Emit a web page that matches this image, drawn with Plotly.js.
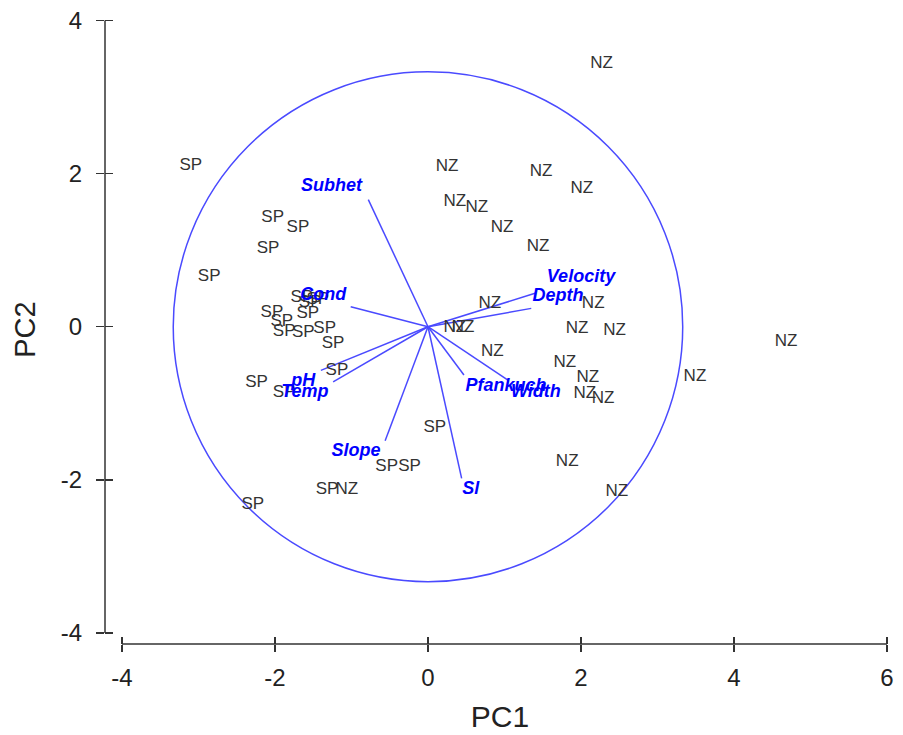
<!DOCTYPE html>
<html>
<head>
<meta charset="utf-8">
<script src="https://cdn.plot.ly/plotly-3.0.1.min.js"></script>
<style>html,body{margin:0;padding:0;background:#fff;}#chart{width:903px;height:735px;}</style>
</head>
<body>
<div id="chart"></div>
<script>
// Sample scores (PC1, PC2)
var spX = [-3.10, -2.03, -1.70, -2.09, -2.86, -1.65, -1.54, -1.44, -1.57, -2.04, -1.91, -1.88, -1.63, -1.35, -1.24, -1.19, -2.24, -1.88, 0.09, -0.54, -0.24, -1.32, -2.29];
var spY = [2.10, 1.42, 1.29, 1.02, 0.65, 0.38, 0.31, 0.35, 0.17, 0.18, 0.07, -0.07, -0.08, -0.03, -0.22, -0.57, -0.73, -0.86, -1.32, -1.83, -1.83, -2.13, -2.32];
var nzX = [2.27, 0.25, 1.48, 2.01, 0.35, 0.64, 0.97, 1.44, 0.81, 2.16, 1.95, 2.44, 0.35, 0.46, 0.84, 1.79, 2.09, 2.05, 2.29, 1.82, 2.47, -1.06, 3.49, 4.68];
var nzY = [3.44, 2.09, 2.03, 1.80, 1.63, 1.55, 1.29, 1.04, 0.30, 0.30, -0.03, -0.05, -0.01, -0.01, -0.33, -0.47, -0.66, -0.87, -0.94, -1.76, -2.16, -2.13, -0.65, -0.20];

// Variable loadings (line end points) and label positions
var varNames  = ['Subhet', 'Cond', 'pH', 'Temp', 'Slope', 'Sl', 'Pfankuch', 'Width', 'Velocity', 'Depth'];
var varX      = [-0.78, -1.01, -1.40, -1.24, -0.56, 0.44, 0.47, 1.05, 1.41, 1.35];
var varY      = [1.66, 0.26, -0.57, -0.72, -1.49, -1.98, -0.63, -0.70, 0.44, 0.24];
var varLabelX = [-1.26, -1.37, -1.63, -1.61, -0.94, 0.56, 1.02, 1.41, 2.00, 1.70];
var varLabelY = [1.83, 0.41, -0.71, -0.86, -1.63, -2.13, -0.78, -0.86, 0.64, 0.39];

// Correlation circle
var circleCenter = [0, 0];
var circleRadius = 3.33;

// Axis ticks
var xTicks = [-4, -2, 0, 2, 4, 6];
var yTicks = [-4, -2, 0, 2, 4];

var lx = [], ly = [];
for (var i = 0; i < varNames.length; i++) {
  lx.push(0, varX[i], null);
  ly.push(0, varY[i], null);
}

var blueLine = '#4a4aff';
var axisCol = '#333333';
var txtCol = '#333333';

var traces = [
  {type: 'scatter', mode: 'lines', x: lx, y: ly, line: {color: blueLine, width: 1.5}, hoverinfo: 'skip', showlegend: false},
  {type: 'scatter', mode: 'text', x: spX, y: spY, text: spX.map(function(){return 'SP';}),
   textposition: 'middle center', textfont: {family: 'Liberation Sans, Arial, sans-serif', size: 17, color: txtCol}, showlegend: false},
  {type: 'scatter', mode: 'text', x: nzX, y: nzY, text: nzX.map(function(){return 'NZ';}),
   textposition: 'middle center', textfont: {family: 'Liberation Sans, Arial, sans-serif', size: 17, color: txtCol}, showlegend: false},
  {type: 'scatter', mode: 'text', x: varLabelX, y: varLabelY, text: varNames.map(function(s){return '<b><i>' + s + '</i></b>';}),
   textposition: 'middle center', textfont: {family: 'Liberation Sans, Arial, sans-serif', size: 18, color: '#0000ff'}, showlegend: false},
  {type: 'scatter', mode: 'markers', x: [], y: [], xaxis: 'x2', yaxis: 'y2', showlegend: false, hoverinfo: 'skip'}
];

var xr = [-4.222, 6.105];
var yr = [-4.144, 4.072];

var layout = {
  width: 903, height: 735,
  margin: {l: 105, r: 8, t: 15, b: 91},
  paper_bgcolor: '#ffffff', plot_bgcolor: '#ffffff',
  showlegend: false,
  xaxis: {
    range: xr, showgrid: false, zeroline: false, showline: false,
    tickmode: 'array', tickvals: xTicks, ticktext: xTicks.map(String),
    ticks: 'outside', ticklen: 7, tickwidth: 1.5, tickcolor: axisCol,
    ticklabelstandoff: 5,
    tickfont: {family: 'Liberation Sans, Arial, sans-serif', size: 24, color: '#222'},
    title: {text: 'PC1', font: {family: 'Liberation Sans, Arial, sans-serif', size: 30, color: '#222'}, standoff: 16}
  },
  yaxis: {
    range: yr, showgrid: false, zeroline: false, showline: false,
    tickmode: 'array', tickvals: yTicks, ticktext: yTicks.map(String),
    ticks: 'outside', ticklen: 8, tickwidth: 1.5, tickcolor: axisCol,
    ticklabelstandoff: 9,
    tickfont: {family: 'Liberation Sans, Arial, sans-serif', size: 24, color: '#222'},
    title: {text: 'PC2', font: {family: 'Liberation Sans, Arial, sans-serif', size: 29, color: '#222'}, standoff: 16}
  },
  xaxis2: {
    range: xr, overlaying: 'x', anchor: 'y', side: 'bottom', showgrid: false, zeroline: false, showline: false,
    tickmode: 'array', tickvals: xTicks, showticklabels: false,
    ticks: 'inside', ticklen: 7, tickwidth: 1.5, tickcolor: axisCol
  },
  yaxis2: {
    range: yr, overlaying: 'y', anchor: 'x', side: 'left', showgrid: false, zeroline: false, showline: false,
    tickmode: 'array', tickvals: yTicks, showticklabels: false,
    ticks: 'inside', ticklen: 8, tickwidth: 1.5, tickcolor: axisCol
  },
  shapes: [
    {type: 'circle', xref: 'x', yref: 'y',
     x0: circleCenter[0] - circleRadius, x1: circleCenter[0] + circleRadius,
     y0: circleCenter[1] - circleRadius, y1: circleCenter[1] + circleRadius,
     line: {color: blueLine, width: 1.5}, layer: 'below'},
    {type: 'line', xref: 'x', yref: 'paper', x0: xTicks[0], x1: xTicks[xTicks.length - 1], y0: 0, y1: 0,
     line: {color: axisCol, width: 1.5}},
    {type: 'line', xref: 'paper', yref: 'y', x0: 0, x1: 0, y0: yTicks[0], y1: yTicks[yTicks.length - 1],
     line: {color: axisCol, width: 1.5}}
  ]
};

Plotly.newPlot('chart', traces, layout, {displayModeBar: false, staticPlot: true});
</script>
</body>
</html>
